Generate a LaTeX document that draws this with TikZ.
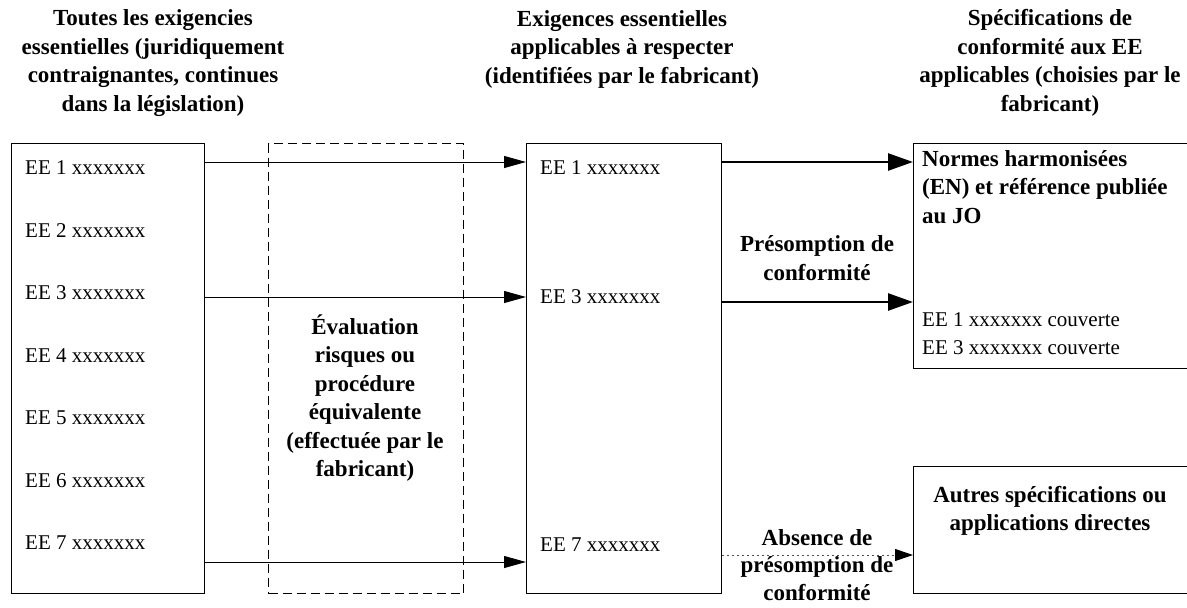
\documentclass[tikz,border=0pt]{standalone}
\usepackage{fontspec}
\setmainfont{Liberation Serif}
\usetikzlibrary{arrows.meta}
\tikzset{
  box/.style={draw=black, line width=1pt, rectangle, inner sep=0pt, anchor=north west},
  dbox/.style={draw=black, line width=1.3pt, dash pattern=on 9pt off 5pt, rectangle, inner sep=0pt, anchor=north west},
  hb/.style={font=\fontsize{23}{28.5}\selectfont\bfseries, align=center, inner sep=0pt},
  hbl/.style={font=\fontsize{23}{28.5}\selectfont\bfseries, align=left, inner sep=0pt},
  rg/.style={font=\fontsize{21}{28}\selectfont, inner sep=0pt, anchor=west},
  thinarrow/.style={draw=black, line width=1pt, -{Triangle[length=22pt,width=12pt]}},
  thickarrow/.style={draw=black, line width=2.6pt, -{Triangle[length=25pt,width=17pt]}},
  dotarrow/.style={draw=black!70, line width=1pt, dash pattern=on 2pt off 3pt, -{Triangle[length=18pt,width=12pt,fill=black,color=black]}}
}
\begin{document}
\begin{tikzpicture}[x=1pt,y=-1pt]
\useasboundingbox (0,0) rectangle (1187,608);

% headings
\node[hb] (hL) at (153,63) {Toutes les exigencies\\essentielles (juridiquement\\contraignantes, continues\\dans la législation)};
\node[hb] (hM) at (622,49) {Exigences essentielles\\applicables à respecter\\(identifiées par le fabricant)};
\node[hb] (hR) at (1050,63) {Spécifications de\\conformité aux EE\\applicables (choisies par le\\fabricant)};

% boxes
\node[box, minimum width=193pt, minimum height=450pt] (L) at (11,143) {};
\node[dbox, minimum width=195pt, minimum height=450pt] (D) at (268,143) {};
\node[box, minimum width=195pt, minimum height=450pt] (M) at (526,143) {};
\node[box, minimum width=290pt, minimum height=225pt] (R1) at (913,143) {};
\node[box, minimum width=290pt, minimum height=127pt] (R2) at (913,466) {};

% left column entries
\node[rg] (l1) at (25,168) {EE 1 xxxxxxx};
\node[rg] (l2) at (25,230.5) {EE 2 xxxxxxx};
\node[rg] (l3) at (25,293) {EE 3 xxxxxxx};
\node[rg] (l4) at (25,355.5) {EE 4 xxxxxxx};
\node[rg] (l5) at (25,418) {EE 5 xxxxxxx};
\node[rg] (l6) at (25,480.5) {EE 6 xxxxxxx};
\node[rg] (l7) at (25,543) {EE 7 xxxxxxx};

% middle column entries
\node[rg] (m1) at (540,168) {EE 1 xxxxxxx};
\node[rg] (m3) at (540,297) {EE 3 xxxxxxx};
\node[rg] (m7) at (540,545) {EE 7 xxxxxxx};

% dashed box text
\node[hb] (eval) at (365,398) {Évaluation\\risques ou\\procédure\\équivalente\\(effectuée par le\\fabricant)};

% right top box text
\node[hbl, anchor=north west] (norm) at (922,150) {Normes harmonisées\\(EN) et référence publiée\\au JO};
\node[rg] (c1) at (922,320) {EE 1 xxxxxxx couverte};
\node[rg] (c3) at (922,348) {EE 3 xxxxxxx couverte};

% right bottom box text
\node[hb] (autres) at (1050,511) {Autres spécifications ou\\applications directes};

% labels between middle and right
\node[hb] (pres) at (817,258) {Présomption de\\conformité};
\node[hb, font=\fontsize{23}{27.5}\selectfont\bfseries] (abs) at (817,565) {Absence de\\présomption de\\conformité};

% connectors
\coordinate (y1) at (0,162);
\coordinate (y3) at (0,297);
\coordinate (y7) at (0,562);
\coordinate (z1) at (0,162);
\coordinate (z3) at (0,302);
\coordinate (z7) at (0,555);
\draw[thinarrow] (L.east |- y1) -- (M.west |- y1);
\draw[thinarrow] (L.east |- y3) -- (M.west |- y3);
\draw[thinarrow] (L.east |- y7) -- (M.west |- y7);
\draw[thickarrow] (M.east |- z1) -- (R1.west |- z1);
\draw[thickarrow] (M.east |- z3) -- (R1.west |- z3);
\draw[dotarrow] (M.east |- z7) -- (R2.west |- z7);
\end{tikzpicture}
\end{document}
